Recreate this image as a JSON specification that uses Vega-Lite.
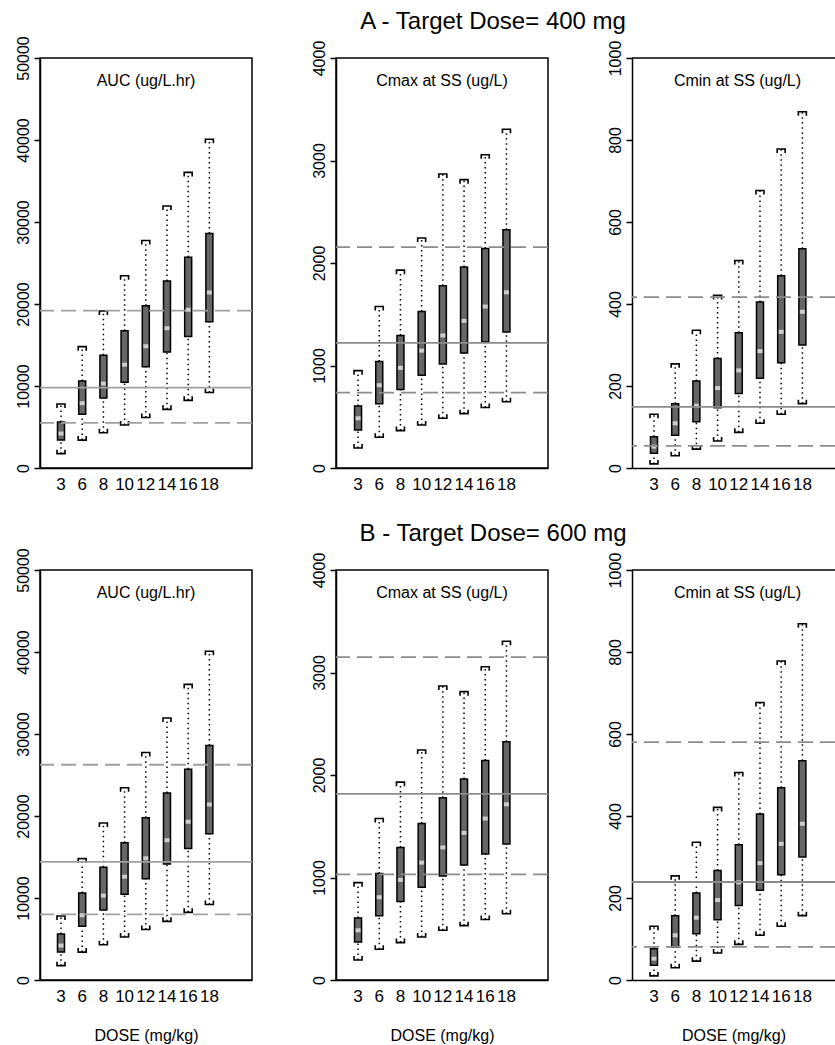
{
 "$schema": "https://vega.github.io/schema/vega-lite/v6.json",
 "padding": {"left": 14, "top": 10, "right": 0, "bottom": 0},
 "background": "white",
 "datasets": {
  "stats": [
   {"metric":"AUC","dose":3,"lo":1750,"q1":3400,"med":4200,"q3":5600,"hi":7800},
   {"metric":"AUC","dose":6,"lo":3400,"q1":6550,"med":7900,"q3":10600,"hi":14800},
   {"metric":"AUC","dose":8,"lo":4300,"q1":8550,"med":10300,"q3":13750,"hi":19150},
   {"metric":"AUC","dose":10,"lo":5250,"q1":10450,"med":12600,"q3":16750,"hi":23450},
   {"metric":"AUC","dose":12,"lo":6150,"q1":12350,"med":14850,"q3":19800,"hi":27750},
   {"metric":"AUC","dose":14,"lo":7150,"q1":14150,"med":17050,"q3":22800,"hi":31950},
   {"metric":"AUC","dose":16,"lo":8250,"q1":16050,"med":19300,"q3":25700,"hi":36050},
   {"metric":"AUC","dose":18,"lo":9200,"q1":17850,"med":21400,"q3":28600,"hi":40100},
   {"metric":"Cmax","dose":3,"lo":195,"q1":370,"med":485,"q3":605,"hi":950},
   {"metric":"Cmax","dose":6,"lo":300,"q1":627,"med":808,"q3":1040,"hi":1575},
   {"metric":"Cmax","dose":8,"lo":365,"q1":766,"med":977,"q3":1293,"hi":1930},
   {"metric":"Cmax","dose":10,"lo":420,"q1":905,"med":1145,"q3":1526,"hi":2244},
   {"metric":"Cmax","dose":12,"lo":485,"q1":1015,"med":1293,"q3":1778,"hi":2868},
   {"metric":"Cmax","dose":14,"lo":530,"q1":1122,"med":1436,"q3":1960,"hi":2813},
   {"metric":"Cmax","dose":16,"lo":590,"q1":1229,"med":1575,"q3":2141,"hi":3056},
   {"metric":"Cmax","dose":18,"lo":647,"q1":1326,"med":1714,"q3":2325,"hi":3305},
   {"metric":"Cmin","dose":3,"lo":10,"q1":36,"med":52,"q3":76,"hi":131},
   {"metric":"Cmin","dose":6,"lo":30,"q1":80,"med":109,"q3":157,"hi":254},
   {"metric":"Cmin","dose":8,"lo":46,"q1":113,"med":152,"q3":212,"hi":336},
   {"metric":"Cmin","dose":10,"lo":66,"q1":147,"med":195,"q3":267,"hi":421},
   {"metric":"Cmin","dose":12,"lo":87,"q1":182,"med":238,"q3":330,"hi":506},
   {"metric":"Cmin","dose":14,"lo":109,"q1":219,"med":285,"q3":405,"hi":677},
   {"metric":"Cmin","dose":16,"lo":131,"q1":257,"med":332,"q3":469,"hi":778},
   {"metric":"Cmin","dose":18,"lo":157,"q1":300,"med":381,"q3":535,"hi":869}
  ],
  "refs": [
   {"row":"A","metric":"AUC","kind":"upper","value":19200},
   {"row":"A","metric":"AUC","kind":"target","value":9800},
   {"row":"A","metric":"AUC","kind":"lower","value":5500},
   {"row":"A","metric":"Cmax","kind":"upper","value":2155},
   {"row":"A","metric":"Cmax","kind":"target","value":1220},
   {"row":"A","metric":"Cmax","kind":"lower","value":735},
   {"row":"A","metric":"Cmin","kind":"upper","value":417},
   {"row":"A","metric":"Cmin","kind":"target","value":149},
   {"row":"A","metric":"Cmin","kind":"lower","value":54},
   {"row":"B","metric":"AUC","kind":"upper","value":26250},
   {"row":"B","metric":"AUC","kind":"target","value":14400},
   {"row":"B","metric":"AUC","kind":"lower","value":8000},
   {"row":"B","metric":"Cmax","kind":"upper","value":3150},
   {"row":"B","metric":"Cmax","kind":"target","value":1815},
   {"row":"B","metric":"Cmax","kind":"lower","value":1030},
   {"row":"B","metric":"Cmin","kind":"upper","value":580},
   {"row":"B","metric":"Cmin","kind":"target","value":239},
   {"row":"B","metric":"Cmin","kind":"lower","value":81}
  ]
 },
 "spacing": 29,
 "vconcat": [
  {
   "title": {"text": "A - Target Dose= 400 mg", "fontSize": 24, "dx": 68, "offset": -11, "baseline": "middle", "anchor": "middle"},
   "bounds": "flush",
   "spacing": 84,
   "hconcat": [
    {
     "width": 212, "height": 410,
     "title": {"text": "AUC (ug/L.hr)", "offset": -61, "frame": "group", "baseline": "middle", "anchor": "middle", "fontSize": 16},
     "layer": [
      {"data": {"name": "stats"}, "transform": [{"filter": {"field": "metric", "equal": "AUC"}}],
       "encoding": {"x": {"field": "dose", "type": "ordinal", "scale": {"type": "band", "domain": [3,6,8,10,12,14,16,18], "paddingInner": 0, "paddingOuter": 1.0, "align": 0.245}, "axis": {"labelAngle": 0, "ticks": false, "labelPadding": 8, "labelFontSize": 17, "title": null}}},
       "layer": [
        {"mark": {"type": "rule", "color": "black", "strokeWidth": 1.5, "strokeDash": [1.5, 3.5]}, "encoding": {"y": {"field": "q3", "type": "quantitative", "scale": {"domain": [0, 50000], "nice": false}, "axis": {"values": [0,10000,20000,30000,40000,50000], "format": "d", "labelAngle": 270, "labelAlign": "center", "labelBaseline": "bottom", "labelPadding": 3, "tickSize": 6, "title": null}}, "y2": {"field": "hi"}}},
        {"mark": {"type": "rule", "color": "black", "strokeWidth": 1.5, "strokeDash": [1.5, 3.5]}, "encoding": {"y": {"field": "lo", "type": "quantitative", "title": null}, "y2": {"field": "q1"}}},
        {"mark": {"type": "bar", "width": 7, "fill": "#666666", "stroke": "black", "strokeWidth": 1.5}, "encoding": {"y": {"field": "q1", "type": "quantitative", "title": null}, "y2": {"field": "q3"}}},
        {"mark": {"type": "tick", "color": "#cccccc", "thickness": 4, "size": 5, "orient": "horizontal", "opacity": 1}, "encoding": {"y": {"field": "med", "type": "quantitative", "title": null}}},
        {"mark": {"type": "point", "shape": "M-1,1L-1,0L1,0L1,1", "size": 64, "filled": false, "stroke": "black", "strokeWidth": 1.6, "opacity": 1}, "encoding": {"y": {"field": "hi", "type": "quantitative", "title": null}}},
        {"mark": {"type": "point", "shape": "M-1,-1L-1,0L1,0L1,-1", "size": 64, "filled": false, "stroke": "black", "strokeWidth": 1.6, "opacity": 1}, "encoding": {"y": {"field": "lo", "type": "quantitative", "title": null}}}
       ]},
      {"data": {"name": "refs"}, "transform": [{"filter": "datum.row === 'A' && datum.metric === 'AUC'"}],
       "mark": {"type": "rule", "color": "#a0a0a0", "strokeWidth": 1.8},
       "encoding": {"y": {"field": "value", "type": "quantitative", "title": null}, "strokeDash": {"field": "kind", "type": "nominal", "scale": {"domain": ["target", "lower", "upper"], "range": [[1, 0], [15, 7], [15, 7]]}, "legend": null}}}
     ]
    },
    {
     "width": 212, "height": 410,
     "title": {"text": "Cmax at SS (ug/L)", "offset": -57, "frame": "group", "baseline": "middle", "anchor": "middle", "fontSize": 16},
     "layer": [
      {"data": {"name": "stats"}, "transform": [{"filter": {"field": "metric", "equal": "Cmax"}}],
       "encoding": {"x": {"field": "dose", "type": "ordinal", "scale": {"type": "band", "domain": [3,6,8,10,12,14,16,18], "paddingInner": 0, "paddingOuter": 1.0, "align": 0.27}, "axis": {"labelAngle": 0, "ticks": false, "labelPadding": 8, "labelFontSize": 17, "title": null}}},
       "layer": [
        {"mark": {"type": "rule", "color": "black", "strokeWidth": 1.5, "strokeDash": [1.5, 3.5]}, "encoding": {"y": {"field": "q3", "type": "quantitative", "scale": {"domain": [0, 4000], "nice": false}, "axis": {"values": [0,1000,2000,3000,4000], "format": "d", "labelAngle": 270, "labelAlign": "center", "labelBaseline": "bottom", "labelPadding": 3, "tickSize": 6, "title": null}}, "y2": {"field": "hi"}}},
        {"mark": {"type": "rule", "color": "black", "strokeWidth": 1.5, "strokeDash": [1.5, 3.5]}, "encoding": {"y": {"field": "lo", "type": "quantitative", "title": null}, "y2": {"field": "q1"}}},
        {"mark": {"type": "bar", "width": 7, "fill": "#666666", "stroke": "black", "strokeWidth": 1.5}, "encoding": {"y": {"field": "q1", "type": "quantitative", "title": null}, "y2": {"field": "q3"}}},
        {"mark": {"type": "tick", "color": "#cccccc", "thickness": 4, "size": 5, "orient": "horizontal", "opacity": 1}, "encoding": {"y": {"field": "med", "type": "quantitative", "title": null}}},
        {"mark": {"type": "point", "shape": "M-1,1L-1,0L1,0L1,1", "size": 64, "filled": false, "stroke": "black", "strokeWidth": 1.6, "opacity": 1}, "encoding": {"y": {"field": "hi", "type": "quantitative", "title": null}}},
        {"mark": {"type": "point", "shape": "M-1,-1L-1,0L1,0L1,-1", "size": 64, "filled": false, "stroke": "black", "strokeWidth": 1.6, "opacity": 1}, "encoding": {"y": {"field": "lo", "type": "quantitative", "title": null}}}
       ]},
      {"data": {"name": "refs"}, "transform": [{"filter": "datum.row === 'A' && datum.metric === 'Cmax'"}],
       "mark": {"type": "rule", "color": "#8c8c8c", "strokeWidth": 1.8},
       "encoding": {"y": {"field": "value", "type": "quantitative", "title": null}, "strokeDash": {"field": "kind", "type": "nominal", "scale": {"domain": ["target", "lower", "upper"], "range": [[1, 0], [15, 7], [15, 7]]}, "legend": null}}}
     ]
    },
    {
     "width": 203, "height": 410,
     "view": {"stroke": null},
     "title": {"text": "Cmin at SS (ug/L)", "offset": -57, "frame": "group", "baseline": "middle", "anchor": "middle", "fontSize": 16, "dx": 4},
     "layer": [
      {"data": {"name": "stats"}, "transform": [{"filter": {"field": "metric", "equal": "Cmin"}}],
       "encoding": {"x": {"field": "dose", "type": "ordinal", "scale": {"type": "band", "domain": [3,6,8,10,12,14,16,18], "paddingInner": 0, "paddingOuter": 0.788, "align": 0.341}, "axis": {"labelAngle": 0, "ticks": false, "labelPadding": 8, "labelFontSize": 17, "title": null}}},
       "layer": [
        {"mark": {"type": "rule", "color": "black", "strokeWidth": 1.5, "strokeDash": [1.5, 3.5]}, "encoding": {"y": {"field": "q3", "type": "quantitative", "scale": {"domain": [0, 1000], "nice": false}, "axis": {"values": [0,200,400,600,800,1000], "format": "d", "labelAngle": 270, "labelAlign": "center", "labelBaseline": "bottom", "labelPadding": 3, "tickSize": 6, "title": null}}, "y2": {"field": "hi"}}},
        {"mark": {"type": "rule", "color": "black", "strokeWidth": 1.5, "strokeDash": [1.5, 3.5]}, "encoding": {"y": {"field": "lo", "type": "quantitative", "title": null}, "y2": {"field": "q1"}}},
        {"mark": {"type": "bar", "width": 7, "fill": "#666666", "stroke": "black", "strokeWidth": 1.5}, "encoding": {"y": {"field": "q1", "type": "quantitative", "title": null}, "y2": {"field": "q3"}}},
        {"mark": {"type": "tick", "color": "#cccccc", "thickness": 4, "size": 5, "orient": "horizontal", "opacity": 1}, "encoding": {"y": {"field": "med", "type": "quantitative", "title": null}}},
        {"mark": {"type": "point", "shape": "M-1,1L-1,0L1,0L1,1", "size": 64, "filled": false, "stroke": "black", "strokeWidth": 1.6, "opacity": 1}, "encoding": {"y": {"field": "hi", "type": "quantitative", "title": null}}},
        {"mark": {"type": "point", "shape": "M-1,-1L-1,0L1,0L1,-1", "size": 64, "filled": false, "stroke": "black", "strokeWidth": 1.6, "opacity": 1}, "encoding": {"y": {"field": "lo", "type": "quantitative", "title": null}}}
       ]},
      {"data": {"name": "refs"}, "transform": [{"filter": "datum.row === 'A' && datum.metric === 'Cmin'"}],
       "mark": {"type": "rule", "color": "#8c8c8c", "strokeWidth": 1.8},
       "encoding": {"y": {"field": "value", "type": "quantitative", "title": null}, "strokeDash": {"field": "kind", "type": "nominal", "scale": {"domain": ["target", "lower", "upper"], "range": [[1, 0], [15, 7], [15, 7]]}, "legend": null}}},
      {"data": {"values": [{"edge": 1000}]},
       "mark": {"type": "rule", "color": "black", "strokeWidth": 1.5},
       "encoding": {"y": {"field": "edge", "type": "quantitative", "title": null}}}
     ]
    }
   ]
  },
  {
   "title": {"text": "B - Target Dose= 600 mg", "fontSize": 24, "dx": 68, "offset": -11, "baseline": "middle", "anchor": "middle"},
   "bounds": "flush",
   "spacing": 84,
   "hconcat": [
    {
     "width": 212, "height": 410,
     "title": {"text": "AUC (ug/L.hr)", "offset": -61, "frame": "group", "baseline": "middle", "anchor": "middle", "fontSize": 16},
     "layer": [
      {"data": {"name": "stats"}, "transform": [{"filter": {"field": "metric", "equal": "AUC"}}],
       "encoding": {"x": {"field": "dose", "type": "ordinal", "scale": {"type": "band", "domain": [3,6,8,10,12,14,16,18], "paddingInner": 0, "paddingOuter": 1.0, "align": 0.245}, "axis": {"labelAngle": 0, "ticks": false, "labelPadding": 8, "labelFontSize": 17, "title": "DOSE (mg/kg)", "titlePadding": 23}}},
       "layer": [
        {"mark": {"type": "rule", "color": "black", "strokeWidth": 1.5, "strokeDash": [1.5, 3.5]}, "encoding": {"y": {"field": "q3", "type": "quantitative", "scale": {"domain": [0, 50000], "nice": false}, "axis": {"values": [0,10000,20000,30000,40000,50000], "format": "d", "labelAngle": 270, "labelAlign": "center", "labelBaseline": "bottom", "labelPadding": 3, "tickSize": 6, "title": null}}, "y2": {"field": "hi"}}},
        {"mark": {"type": "rule", "color": "black", "strokeWidth": 1.5, "strokeDash": [1.5, 3.5]}, "encoding": {"y": {"field": "lo", "type": "quantitative", "title": null}, "y2": {"field": "q1"}}},
        {"mark": {"type": "bar", "width": 7, "fill": "#666666", "stroke": "black", "strokeWidth": 1.5}, "encoding": {"y": {"field": "q1", "type": "quantitative", "title": null}, "y2": {"field": "q3"}}},
        {"mark": {"type": "tick", "color": "#cccccc", "thickness": 4, "size": 5, "orient": "horizontal", "opacity": 1}, "encoding": {"y": {"field": "med", "type": "quantitative", "title": null}}},
        {"mark": {"type": "point", "shape": "M-1,1L-1,0L1,0L1,1", "size": 64, "filled": false, "stroke": "black", "strokeWidth": 1.6, "opacity": 1}, "encoding": {"y": {"field": "hi", "type": "quantitative", "title": null}}},
        {"mark": {"type": "point", "shape": "M-1,-1L-1,0L1,0L1,-1", "size": 64, "filled": false, "stroke": "black", "strokeWidth": 1.6, "opacity": 1}, "encoding": {"y": {"field": "lo", "type": "quantitative", "title": null}}}
       ]},
      {"data": {"name": "refs"}, "transform": [{"filter": "datum.row === 'B' && datum.metric === 'AUC'"}],
       "mark": {"type": "rule", "color": "#a0a0a0", "strokeWidth": 1.8},
       "encoding": {"y": {"field": "value", "type": "quantitative", "title": null}, "strokeDash": {"field": "kind", "type": "nominal", "scale": {"domain": ["target", "lower", "upper"], "range": [[1, 0], [15, 7], [15, 7]]}, "legend": null}}}
     ]
    },
    {
     "width": 212, "height": 410,
     "title": {"text": "Cmax at SS (ug/L)", "offset": -57, "frame": "group", "baseline": "middle", "anchor": "middle", "fontSize": 16},
     "layer": [
      {"data": {"name": "stats"}, "transform": [{"filter": {"field": "metric", "equal": "Cmax"}}],
       "encoding": {"x": {"field": "dose", "type": "ordinal", "scale": {"type": "band", "domain": [3,6,8,10,12,14,16,18], "paddingInner": 0, "paddingOuter": 1.0, "align": 0.27}, "axis": {"labelAngle": 0, "ticks": false, "labelPadding": 8, "labelFontSize": 17, "title": "DOSE (mg/kg)", "titlePadding": 23}}},
       "layer": [
        {"mark": {"type": "rule", "color": "black", "strokeWidth": 1.5, "strokeDash": [1.5, 3.5]}, "encoding": {"y": {"field": "q3", "type": "quantitative", "scale": {"domain": [0, 4000], "nice": false}, "axis": {"values": [0,1000,2000,3000,4000], "format": "d", "labelAngle": 270, "labelAlign": "center", "labelBaseline": "bottom", "labelPadding": 3, "tickSize": 6, "title": null}}, "y2": {"field": "hi"}}},
        {"mark": {"type": "rule", "color": "black", "strokeWidth": 1.5, "strokeDash": [1.5, 3.5]}, "encoding": {"y": {"field": "lo", "type": "quantitative", "title": null}, "y2": {"field": "q1"}}},
        {"mark": {"type": "bar", "width": 7, "fill": "#666666", "stroke": "black", "strokeWidth": 1.5}, "encoding": {"y": {"field": "q1", "type": "quantitative", "title": null}, "y2": {"field": "q3"}}},
        {"mark": {"type": "tick", "color": "#cccccc", "thickness": 4, "size": 5, "orient": "horizontal", "opacity": 1}, "encoding": {"y": {"field": "med", "type": "quantitative", "title": null}}},
        {"mark": {"type": "point", "shape": "M-1,1L-1,0L1,0L1,1", "size": 64, "filled": false, "stroke": "black", "strokeWidth": 1.6, "opacity": 1}, "encoding": {"y": {"field": "hi", "type": "quantitative", "title": null}}},
        {"mark": {"type": "point", "shape": "M-1,-1L-1,0L1,0L1,-1", "size": 64, "filled": false, "stroke": "black", "strokeWidth": 1.6, "opacity": 1}, "encoding": {"y": {"field": "lo", "type": "quantitative", "title": null}}}
       ]},
      {"data": {"name": "refs"}, "transform": [{"filter": "datum.row === 'B' && datum.metric === 'Cmax'"}],
       "mark": {"type": "rule", "color": "#8c8c8c", "strokeWidth": 1.8},
       "encoding": {"y": {"field": "value", "type": "quantitative", "title": null}, "strokeDash": {"field": "kind", "type": "nominal", "scale": {"domain": ["target", "lower", "upper"], "range": [[1, 0], [15, 7], [15, 7]]}, "legend": null}}}
     ]
    },
    {
     "width": 203, "height": 410,
     "view": {"stroke": null},
     "title": {"text": "Cmin at SS (ug/L)", "offset": -57, "frame": "group", "baseline": "middle", "anchor": "middle", "fontSize": 16, "dx": 4},
     "layer": [
      {"data": {"name": "stats"}, "transform": [{"filter": {"field": "metric", "equal": "Cmin"}}],
       "encoding": {"x": {"field": "dose", "type": "ordinal", "scale": {"type": "band", "domain": [3,6,8,10,12,14,16,18], "paddingInner": 0, "paddingOuter": 0.788, "align": 0.341}, "axis": {"labelAngle": 0, "ticks": false, "labelPadding": 8, "labelFontSize": 17, "title": "DOSE (mg/kg)", "titlePadding": 23}}},
       "layer": [
        {"mark": {"type": "rule", "color": "black", "strokeWidth": 1.5, "strokeDash": [1.5, 3.5]}, "encoding": {"y": {"field": "q3", "type": "quantitative", "scale": {"domain": [0, 1000], "nice": false}, "axis": {"values": [0,200,400,600,800,1000], "format": "d", "labelAngle": 270, "labelAlign": "center", "labelBaseline": "bottom", "labelPadding": 3, "tickSize": 6, "title": null}}, "y2": {"field": "hi"}}},
        {"mark": {"type": "rule", "color": "black", "strokeWidth": 1.5, "strokeDash": [1.5, 3.5]}, "encoding": {"y": {"field": "lo", "type": "quantitative", "title": null}, "y2": {"field": "q1"}}},
        {"mark": {"type": "bar", "width": 7, "fill": "#666666", "stroke": "black", "strokeWidth": 1.5}, "encoding": {"y": {"field": "q1", "type": "quantitative", "title": null}, "y2": {"field": "q3"}}},
        {"mark": {"type": "tick", "color": "#cccccc", "thickness": 4, "size": 5, "orient": "horizontal", "opacity": 1}, "encoding": {"y": {"field": "med", "type": "quantitative", "title": null}}},
        {"mark": {"type": "point", "shape": "M-1,1L-1,0L1,0L1,1", "size": 64, "filled": false, "stroke": "black", "strokeWidth": 1.6, "opacity": 1}, "encoding": {"y": {"field": "hi", "type": "quantitative", "title": null}}},
        {"mark": {"type": "point", "shape": "M-1,-1L-1,0L1,0L1,-1", "size": 64, "filled": false, "stroke": "black", "strokeWidth": 1.6, "opacity": 1}, "encoding": {"y": {"field": "lo", "type": "quantitative", "title": null}}}
       ]},
      {"data": {"name": "refs"}, "transform": [{"filter": "datum.row === 'B' && datum.metric === 'Cmin'"}],
       "mark": {"type": "rule", "color": "#8c8c8c", "strokeWidth": 1.8},
       "encoding": {"y": {"field": "value", "type": "quantitative", "title": null}, "strokeDash": {"field": "kind", "type": "nominal", "scale": {"domain": ["target", "lower", "upper"], "range": [[1, 0], [15, 7], [15, 7]]}, "legend": null}}},
      {"data": {"values": [{"edge": 1000}]},
       "mark": {"type": "rule", "color": "black", "strokeWidth": 1.5},
       "encoding": {"y": {"field": "edge", "type": "quantitative", "title": null}}}
     ]
    }
   ]
  }
 ],
 "config": {
  "font": "Liberation Sans",
  "view": {"stroke": "black", "strokeWidth": 1.5},
  "axis": {"grid": false, "labelFont": "Liberation Sans", "labelFontSize": 16, "labelColor": "black", "domainColor": "black", "domainWidth": 1.5, "tickColor": "black", "tickWidth": 1.5, "titleFont": "Liberation Sans", "titleFontSize": 16, "titleFontWeight": "normal", "titleColor": "black", "labelOverlap": false},
  "title": {"font": "Liberation Sans", "fontWeight": "normal", "color": "black"}
 }
}
